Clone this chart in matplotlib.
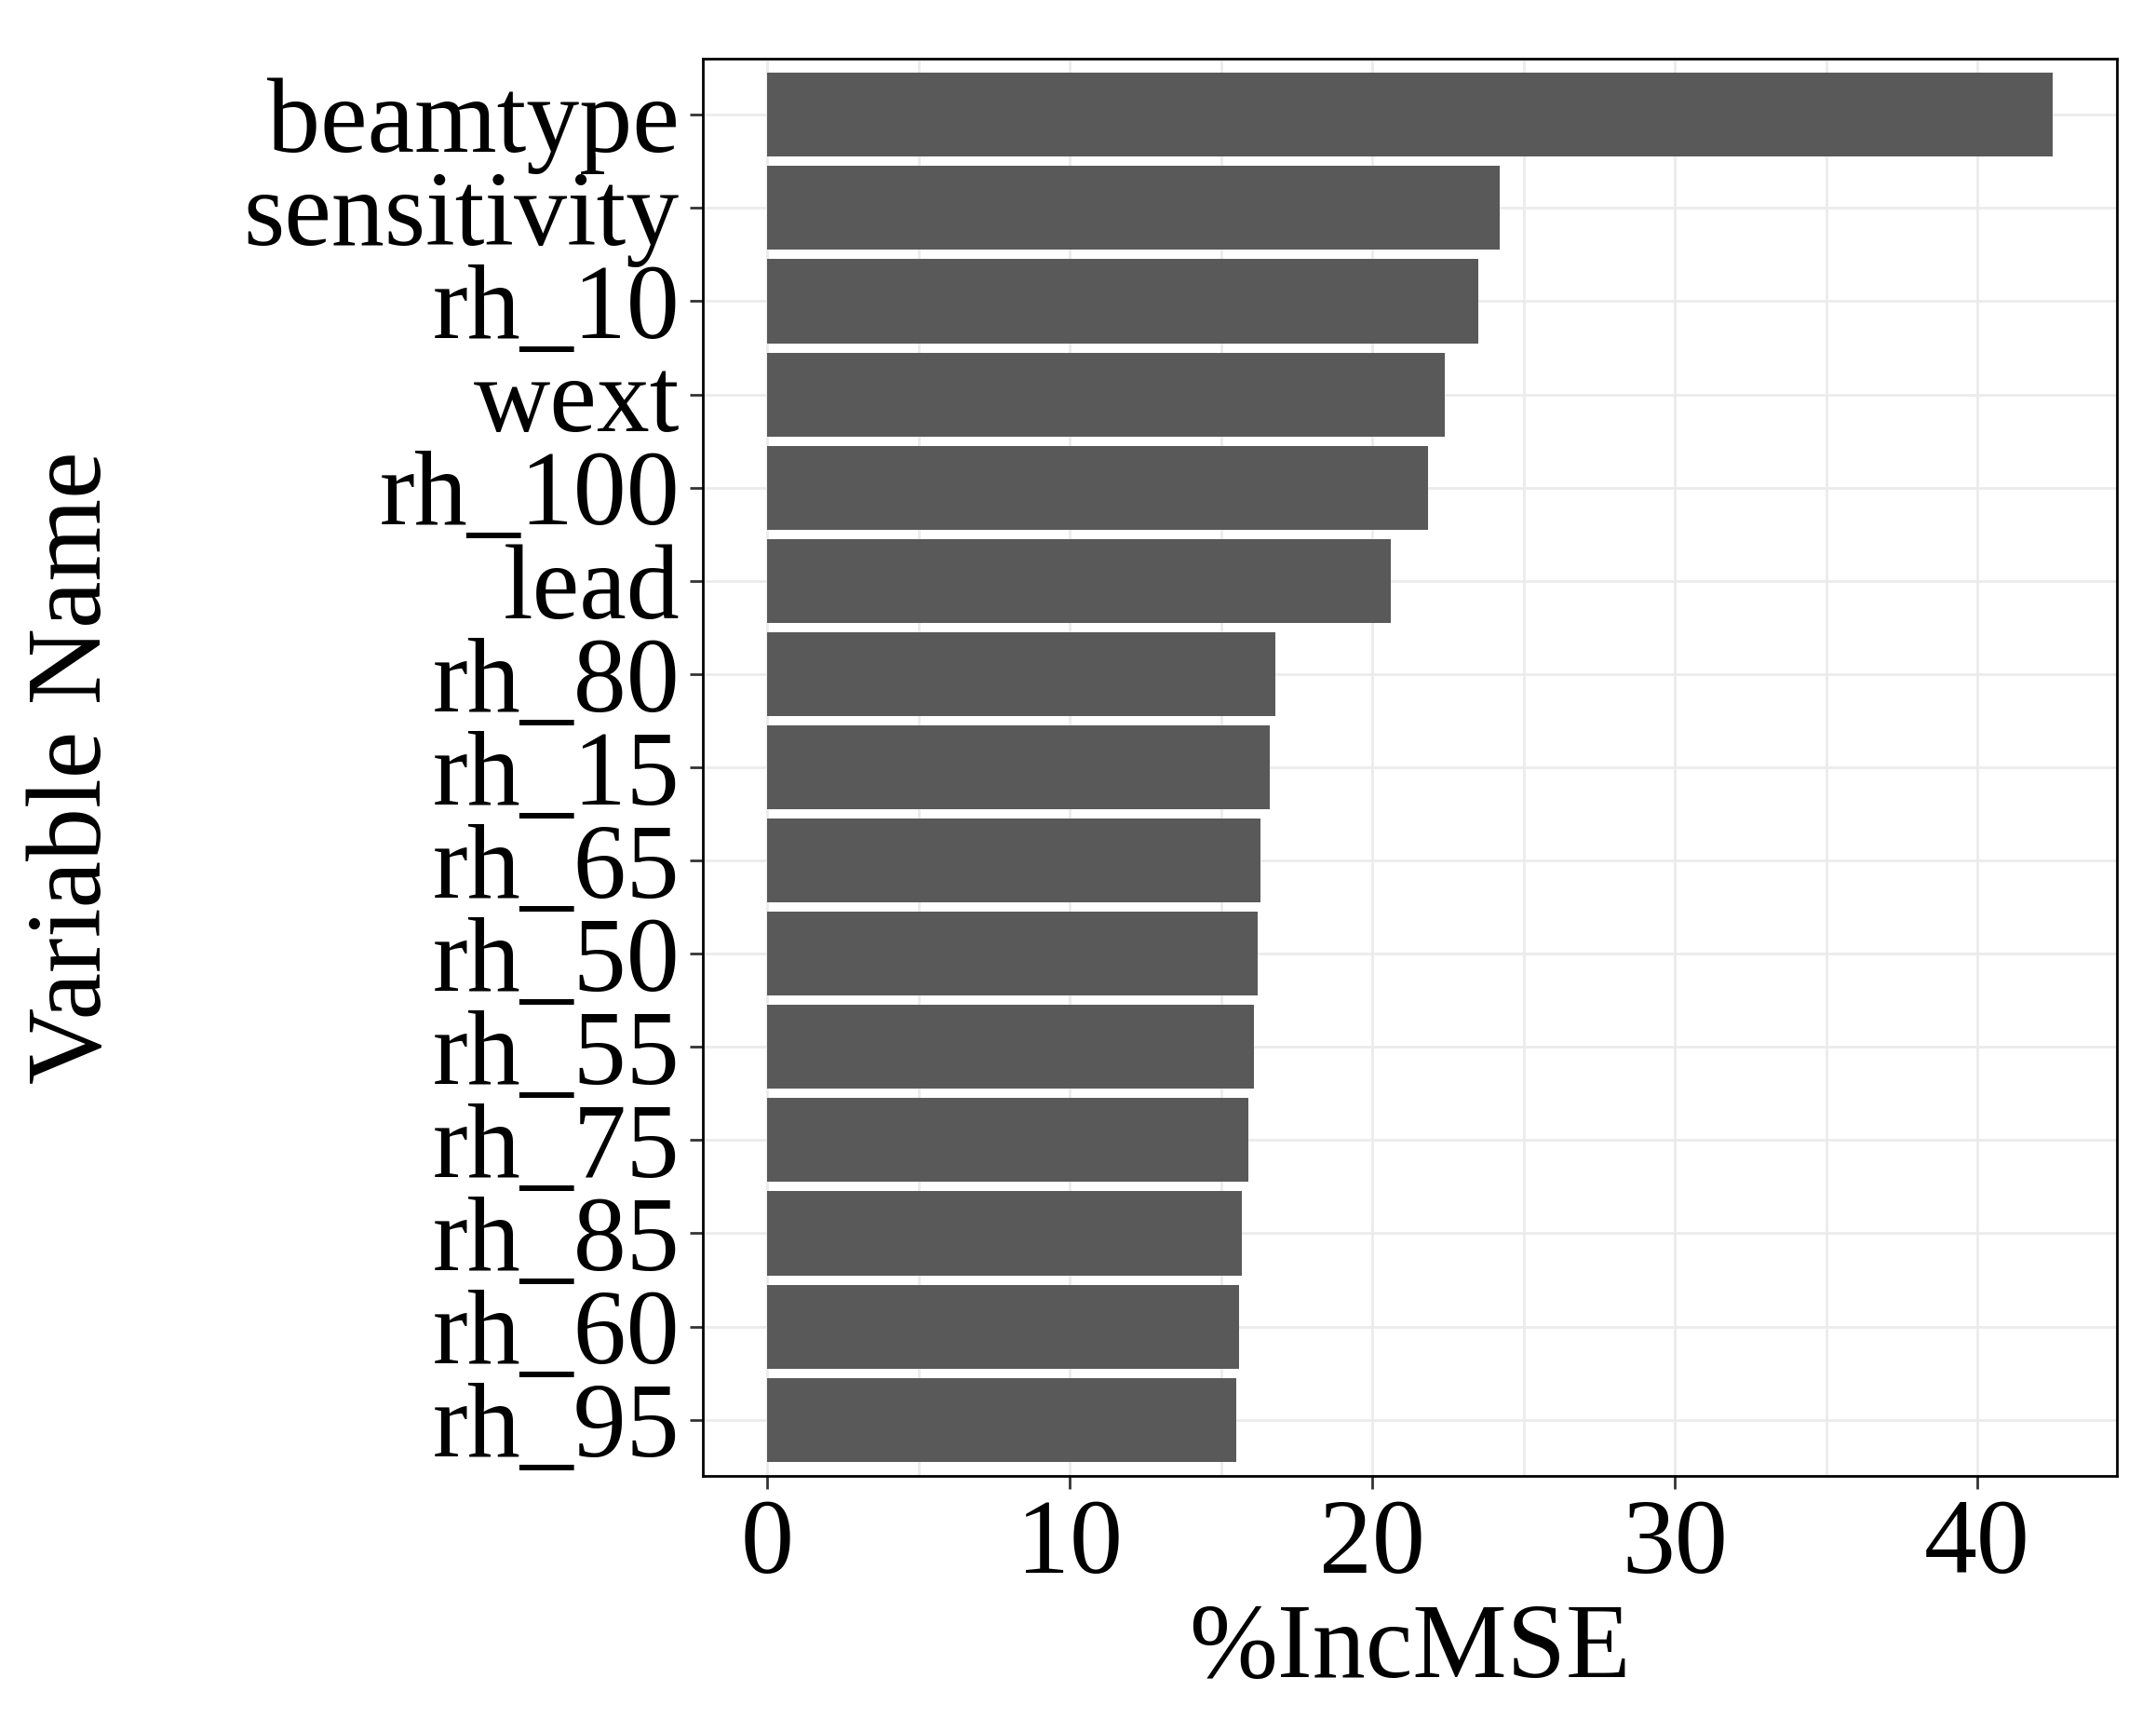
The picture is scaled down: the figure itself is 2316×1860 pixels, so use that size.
import matplotlib.pyplot as plt

variables = ["beamtype", "sensitivity", "rh_10", "wext", "rh_100", "lead", "rh_80",
             "rh_15", "rh_65", "rh_50", "rh_55", "rh_75", "rh_85", "rh_60", "rh_95"]
inc_mse = [42.5, 24.2, 23.5, 22.4, 21.85, 20.6, 16.8, 16.6, 16.3, 16.2, 16.1, 15.9, 15.7, 15.6, 15.5]

plt.rcParams['font.family'] = ['Liberation Serif', 'DejaVu Serif']
fig = plt.figure(figsize=(23.16, 18.6), dpi=100)
ax = fig.add_axes([0.326, 0.148, 0.656, 0.818])

y = list(range(len(variables)))[::-1]
ax.barh(y, inc_mse, height=0.9, color='#595959', zorder=3)
ax.set_yticks(y)
ax.set_yticklabels(variables)
ax.set_ylim(-0.6, len(variables) - 0.4)
ax.set_xlim(-2.125, 44.625)
ax.set_xticks([0, 10, 20, 30, 40])
ax.set_xticks([5, 15, 25, 35], minor=True)
ax.grid(True, which='both', color='#ebebeb', linewidth=2, zorder=0)
ax.tick_params(labelsize=82, length=10, width=2, color='#333333', pad=8)
ax.tick_params(which='minor', length=0)
for s in ax.spines.values():
    s.set_linewidth(2)
ax.set_xlabel('%IncMSE', fontsize=82, labelpad=6)
ax.set_ylabel('Variable Name', fontsize=82)
ax.yaxis.set_label_coords(-0.41, 0.5)
fig.savefig('out.png', dpi=100)
